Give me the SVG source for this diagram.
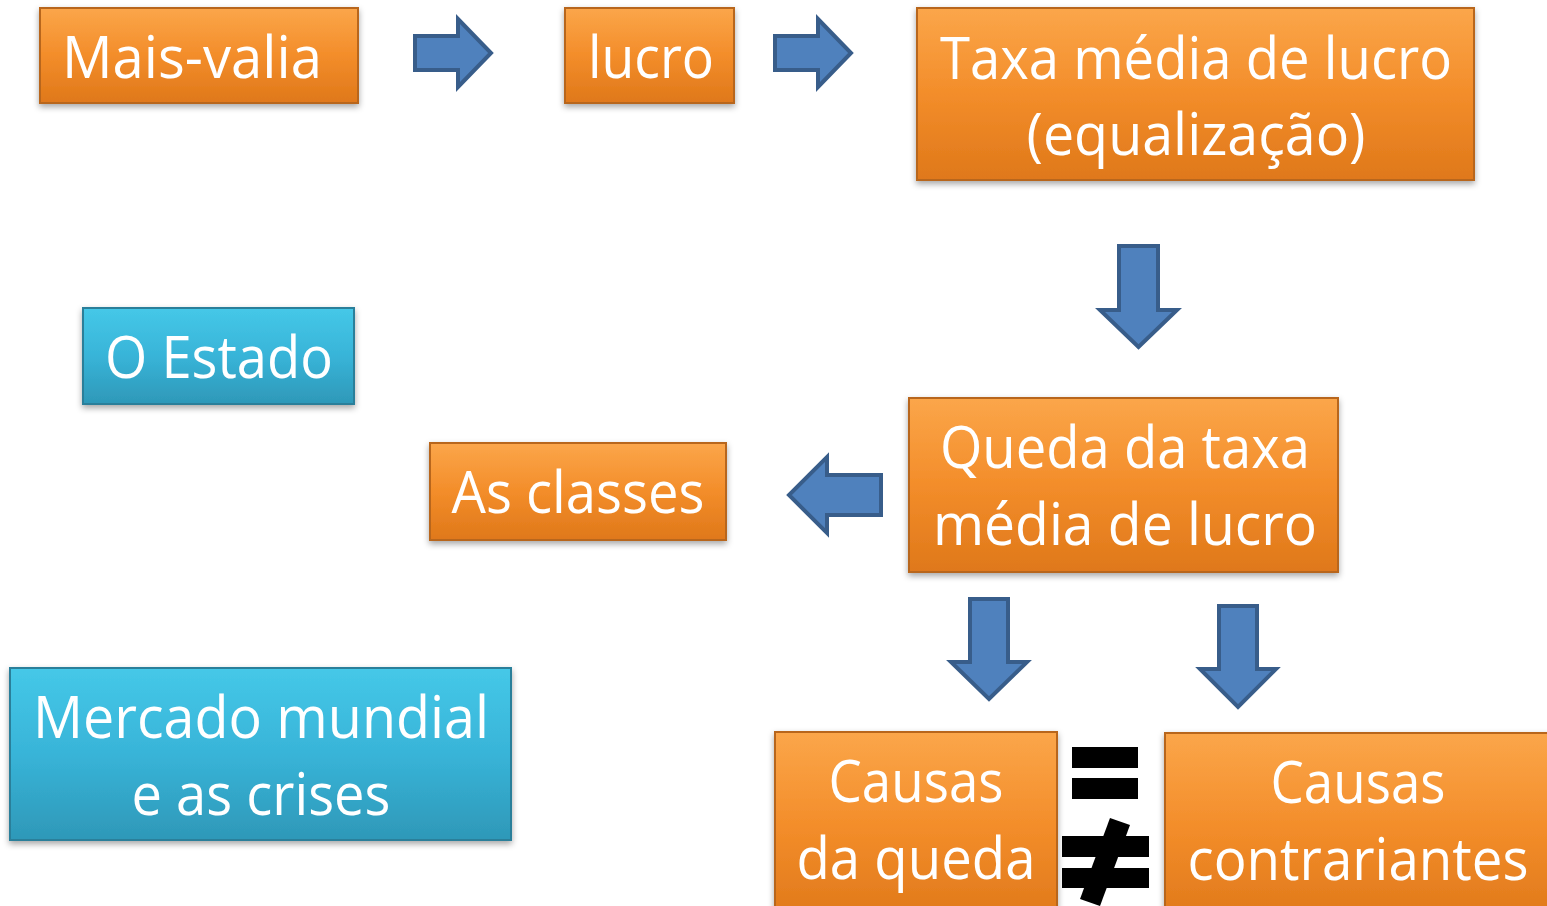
<svg xmlns="http://www.w3.org/2000/svg" width="1547" height="906" viewBox="0 0 1547 906">
<defs>
<linearGradient id="gOr" x1="0" y1="0" x2="0" y2="1">
<stop offset="0" stop-color="#fba64a"/>
<stop offset="0.5" stop-color="#f38d2a"/>
<stop offset="1" stop-color="#df781a"/>
</linearGradient>
<linearGradient id="gCy" x1="0" y1="0" x2="0" y2="1">
<stop offset="0" stop-color="#45c8e8"/>
<stop offset="0.5" stop-color="#38b4d8"/>
<stop offset="1" stop-color="#2e98b8"/>
</linearGradient>
<filter id="sh" x="-10%" y="-10%" width="120%" height="130%">
<feDropShadow dx="0" dy="3" stdDeviation="3" flood-color="#000" flood-opacity="0.35"/>
</filter>
<style>
.or{fill:url(#gOr);stroke:#b8661e;stroke-width:2;filter:url(#sh)}
.cy{fill:url(#gCy);stroke:#2a7f9a;stroke-width:2;filter:url(#sh)}
.t{font-family:"Open Sans","Noto Sans",sans-serif;font-size:58px;fill:#ffffff;text-anchor:middle}
.ar{fill:#4f81bd;stroke:#385d8a;stroke-width:4;stroke-linejoin:miter}
.bk{fill:#000000}
</style>
</defs>
<rect width="1547" height="906" fill="#ffffff"/>

<g id="mais-valia">
<rect class="or" x="40" y="8" width="318" height="95"/>
<text class="t" x="192" y="78" textLength="260" lengthAdjust="spacingAndGlyphs">Mais-valia</text>
</g>
<g id="lucro">
<rect class="or" x="565" y="8" width="169" height="95"/>
<text class="t" x="651" y="78" textLength="126" lengthAdjust="spacingAndGlyphs">lucro</text>
</g>
<g id="taxa-media">
<rect class="or" x="917" y="8" width="557" height="172"/>
<text class="t" x="1196" y="79" textLength="512" lengthAdjust="spacingAndGlyphs">Taxa média de lucro</text>
<text class="t" x="1196" y="155" textLength="339" lengthAdjust="spacingAndGlyphs">(equalização)</text>
</g>
<g id="o-estado">
<rect class="cy" x="83" y="308" width="271" height="96"/>
<text class="t" x="219" y="378" textLength="228" lengthAdjust="spacingAndGlyphs">O Estado</text>
</g>
<g id="as-classes">
<rect class="or" x="430" y="443" width="296" height="97"/>
<text class="t" x="578" y="513" textLength="253" lengthAdjust="spacingAndGlyphs">As classes</text>
</g>
<g id="queda">
<rect class="or" x="909" y="398" width="429" height="174"/>
<text class="t" x="1125" y="468" textLength="370" lengthAdjust="spacingAndGlyphs">Queda da taxa</text>
<text class="t" x="1125" y="545" textLength="384" lengthAdjust="spacingAndGlyphs">média de lucro</text>
</g>
<g id="mercado">
<rect class="cy" x="10" y="668" width="501" height="172"/>
<text class="t" x="261" y="738" textLength="456" lengthAdjust="spacingAndGlyphs">Mercado mundial</text>
<text class="t" x="261" y="815" textLength="259" lengthAdjust="spacingAndGlyphs">e as crises</text>
</g>
<g id="causas-queda">
<rect class="or" x="775" y="732" width="282" height="190"/>
<text class="t" x="916" y="802" textLength="175" lengthAdjust="spacingAndGlyphs">Causas</text>
<text class="t" x="916" y="879" textLength="239" lengthAdjust="spacingAndGlyphs">da queda</text>
</g>
<g id="causas-contrariantes">
<rect class="or" x="1165" y="733" width="400" height="190"/>
<text class="t" x="1358" y="803" textLength="175" lengthAdjust="spacingAndGlyphs">Causas</text>
<text class="t" x="1358" y="880" textLength="341" lengthAdjust="spacingAndGlyphs">contrariantes</text>
</g>

<g id="connectors">
<path class="ar" d="M415 36 H458 V19 L491 53 L458 87 V70 H415 Z"/>
<path class="ar" d="M775 36 H818 V19 L851 53 L818 87 V70 H775 Z"/>
<path class="ar" d="M1119 246 H1158 V310 H1177 L1138.5 347 L1100 310 H1119 Z"/>
<path class="ar" d="M881 475 H827 V457 L789 495 L827 533 V515 H881 Z"/>
<path class="ar" d="M970 599 H1008 V662 H1027 L989 699 L951 662 H970 Z"/>
<path class="ar" d="M1219 606 H1257 V669 H1276 L1238 707 L1200 669 H1219 Z"/>
</g>

<g id="equals">
<rect class="bk" x="1072" y="747" width="66" height="21"/>
<rect class="bk" x="1072" y="778" width="66" height="21"/>
</g>
<g id="not-equals">
<rect class="bk" x="1062" y="836" width="87" height="21"/>
<rect class="bk" x="1062" y="868" width="87" height="20"/>
<polygon class="bk" points="1110,818 1130,825 1100,906 1080,899"/>
</g>
</svg>
